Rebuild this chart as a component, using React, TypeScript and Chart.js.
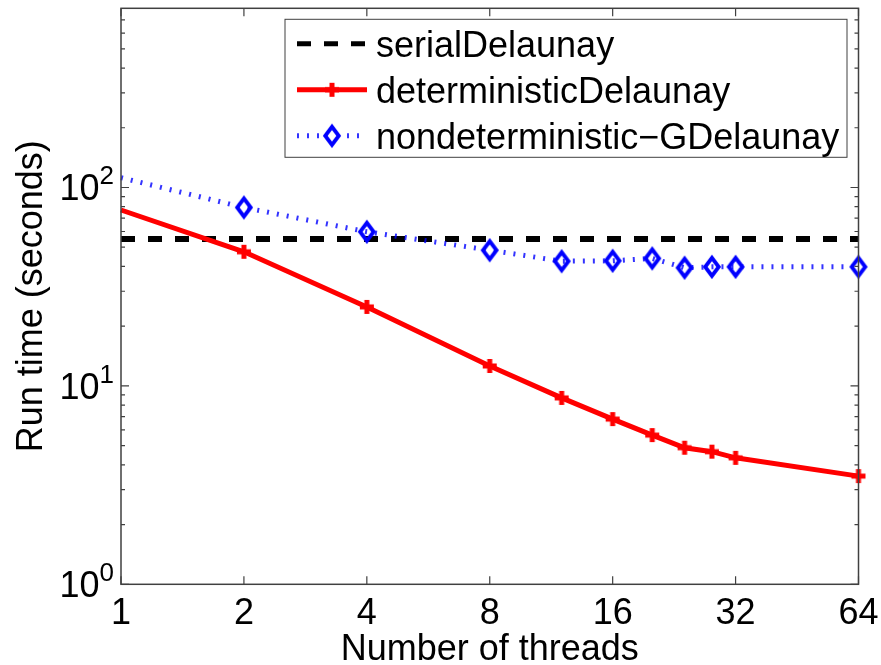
import React, { useEffect, useRef } from "react";
import { Chart, registerables } from "chart.js";

Chart.register(...registerables);

// ---- data ----
const threads = [1, 2, 4, 8, 12, 16, 20, 24, 28, 32, 64];
const serialThreads = [1, 64];
const serialTime = [55, 55];
const deterministicTime = [77, 47.4, 25.0, 12.6, 8.7, 6.8, 5.65, 4.88, 4.66, 4.34, 3.51];
const nondeterministicTime = [112, 79.3, 59.8, 48.3, 42.5, 42.7, 43.9, 39.4, 39.8, 39.8, 39.8];
const xTickValues = [1, 2, 4, 8, 16, 32, 64];
const xTickLabels = ["1", "2", "4", "8", "16", "32", "64"];
const yMajorValues = [1, 10, 100];
const yExponentLabels = ["0", "1", "2"];
const seriesNames = ["serialDelaunay", "deterministicDelaunay", "nondeterministic\u2212GDelaunay"];
const xTitle = "Number of threads";
const yTitle = "Run time (seconds)";

const X_MIN = 1;
const X_MAX = 64;
const Y_MIN = 1;
const Y_MAX = 800;

const FONT = '"Liberation Sans", Arial, Helvetica, sans-serif';
const AXIS_COLOR = "#404040";
const BLUE_DOT = "rgba(0,0,255,0.8)";

function makeDiamond(): HTMLCanvasElement {
  const c = document.createElement("canvas");
  c.width = 24;
  c.height = 30;
  const g = c.getContext("2d")!;
  const cx = 12, cy = 15, hw = 6.8, hh = 9;
  g.strokeStyle = "#0000ff";
  g.lineWidth = 3.8;
  g.lineJoin = "miter";
  g.beginPath();
  g.moveTo(cx, cy - hh);
  g.lineTo(cx + hw, cy);
  g.lineTo(cx, cy + hh);
  g.lineTo(cx - hw, cy);
  g.closePath();
  g.stroke();
  return c;
}

function makeCross(): HTMLCanvasElement {
  const c = document.createElement("canvas");
  c.width = 16;
  c.height = 16;
  const g = c.getContext("2d")!;
  g.fillStyle = "#ff0000";
  g.fillRect(1, 5.5, 14, 5);
  g.fillRect(5.5, 1, 5, 14);
  return c;
}

export default function App() {
  const ref = useRef<HTMLCanvasElement | null>(null);

  useEffect(() => {
    const canvas = ref.current;
    if (!canvas) return;
    const diamond = makeDiamond();
    const cross = makeCross();

    const yMinorValues: number[] = [];
    for (const d of yMajorValues) {
      for (let m = 2; m <= 9; m++) {
        if (d * m < Y_MAX) yMinorValues.push(d * m);
      }
    }

    const frame = {
      id: "matlabFrame",
      afterDatasetsDraw(chart: any) {
        const { ctx, chartArea: a, scales } = chart;
        const xs = scales.x;
        const ys = scales.y;
        ctx.save();
        ctx.strokeStyle = AXIS_COLOR;
        ctx.lineWidth = 1.5;
        ctx.strokeRect(a.left, a.top, a.right - a.left, a.bottom - a.top);
        ctx.lineWidth = 1.2;
        ctx.beginPath();
        for (const t of xTickValues) {
          const px = xs.getPixelForValue(t);
          ctx.moveTo(px, a.bottom);
          ctx.lineTo(px, a.bottom - 8);
          ctx.moveTo(px, a.top);
          ctx.lineTo(px, a.top + 8);
        }
        for (const t of yMajorValues) {
          const py = ys.getPixelForValue(t);
          ctx.moveTo(a.left, py);
          ctx.lineTo(a.left + 8, py);
          ctx.moveTo(a.right, py);
          ctx.lineTo(a.right - 8, py);
        }
        for (const t of yMinorValues) {
          const py = ys.getPixelForValue(t);
          ctx.moveTo(a.left, py);
          ctx.lineTo(a.left + 4, py);
          ctx.moveTo(a.right, py);
          ctx.lineTo(a.right - 4, py);
        }
        ctx.stroke();

        ctx.fillStyle = "#000";
        ctx.font = `36px ${FONT}`;
        ctx.textAlign = "center";
        ctx.textBaseline = "alphabetic";
        xTickValues.forEach((t, i) => {
          ctx.fillText(xTickLabels[i], xs.getPixelForValue(t), a.bottom + 40);
        });

        yMajorValues.forEach((t, i) => {
          const py = ys.getPixelForValue(t);
          const right = a.left - 7;
          ctx.font = `26px ${FONT}`;
          const ew = ctx.measureText(yExponentLabels[i]).width;
          ctx.textAlign = "left";
          ctx.fillText(yExponentLabels[i], right - ew, py + 13 - 16);
          ctx.font = `36px ${FONT}`;
          ctx.textAlign = "right";
          ctx.fillText("10", right - ew, py + 13);
        });

        ctx.font = `36px ${FONT}`;
        ctx.textAlign = "center";
        ctx.fillText(xTitle, (a.left + a.right) / 2, a.bottom + 76);
        ctx.save();
        ctx.translate(42, (a.top + a.bottom) / 2);
        ctx.rotate(-Math.PI / 2);
        ctx.fillText(yTitle, 0, 0);
        ctx.restore();
        ctx.restore();
      },
      afterDraw(chart: any) {
        const { ctx, chartArea: a } = chart;
        const ds = chart.data.datasets;
        const w = 562, h = 138;
        const lx = a.right - 11.5 - w;
        const ly = a.top + 11;
        ctx.save();
        ctx.fillStyle = "#fff";
        ctx.fillRect(lx, ly, w, h);
        ctx.strokeStyle = AXIS_COLOR;
        ctx.lineWidth = 1;
        ctx.strokeRect(lx, ly, w, h);

        const x0 = lx + 12, x1 = lx + 82, xm = (x0 + x1) / 2;
        for (let i = 0; i < 3; i++) {
          const ry = ly + 24.5 + i * 46;
          const d = ds[i];
          ctx.strokeStyle = d.borderColor;
          ctx.lineWidth = i === 0 ? 5 : d.borderWidth;
          ctx.setLineDash(d.borderDash || []);
          ctx.beginPath();
          ctx.moveTo(x0, ry);
          ctx.lineTo(x1, ry);
          ctx.stroke();
          ctx.setLineDash([]);
          if (i === 1) {
            ctx.drawImage(cross, xm - cross.width / 2, ry - cross.height / 2);
          }
          if (i === 2) {
            ctx.fillStyle = "#fff";
            ctx.fillRect(xm - 8, ry - 10, 16, 20);
            ctx.drawImage(diamond, xm - diamond.width / 2, ry - diamond.height / 2);
          }
          ctx.fillStyle = "#000";
          ctx.font = `36px ${FONT}`;
          ctx.textAlign = "left";
          ctx.textBaseline = "alphabetic";
          ctx.fillText(seriesNames[i], lx + 91, ry + 13);
        }
        ctx.restore();
      },
    };

    const chart = new Chart(canvas, {
      type: "line",
      data: {
        datasets: [
          {
            label: seriesNames[0],
            data: serialThreads.map((x, i) => ({ x, y: serialTime[i] })),
            borderColor: "#000000",
            borderWidth: 6,
            borderDash: [14, 13],
            pointRadius: 0,
            order: 2,
            clip: false,
          },
          {
            label: seriesNames[1],
            data: threads.map((x, i) => ({ x, y: deterministicTime[i] })),
            borderColor: "#ff0000",
            borderWidth: 5,
            pointStyle: cross,
            pointRadius: threads.map((_, i) => (i === 0 ? 0 : 7)),
            order: 1,
            clip: false,
          },
          {
            label: seriesNames[2],
            data: threads.map((x, i) => ({ x, y: nondeterministicTime[i] })),
            borderColor: BLUE_DOT,
            borderWidth: 5,
            borderDash: [2, 8],
            pointStyle: diamond,
            pointRadius: threads.map((_, i) => (i === 0 ? 0 : 10)),
            order: 0,
            clip: false,
          },
        ] as any,
      },
      options: {
        animation: false,
        responsive: false,
        layout: { autoPadding: false, padding: { left: 121, right: 22.5, top: 8.3, bottom: 80.7 } },
        scales: {
          x: { type: "logarithmic", min: X_MIN, max: X_MAX, display: false },
          y: { type: "logarithmic", min: Y_MIN, max: Y_MAX, display: false },
        },
        elements: { line: { tension: 0 } },
        plugins: { legend: { display: false }, tooltip: { enabled: false } },
      },
      plugins: [frame],
    } as any);

    return () => chart.destroy();
  }, []);

  return (
    <div style={{ position: "fixed", left: 0, top: 0, width: 881, height: 665, background: "#fff" }}>
      <canvas ref={ref} width={881} height={665} style={{ display: "block" }} />
    </div>
  );
}
